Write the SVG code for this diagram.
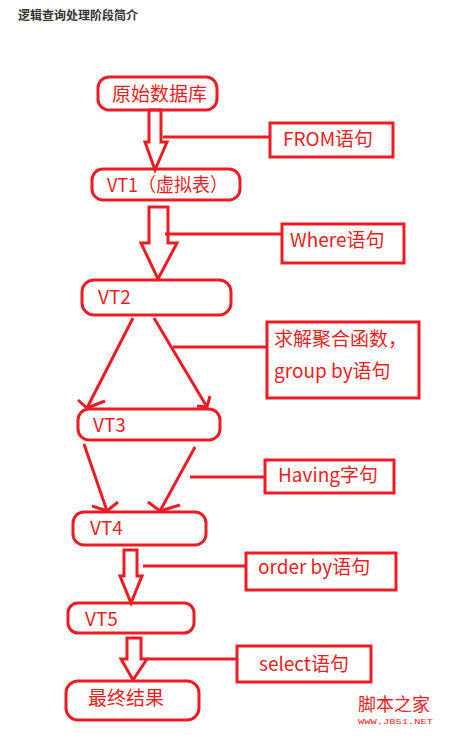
<svg xmlns="http://www.w3.org/2000/svg" width="465" height="742" viewBox="0 0 465 742">
<style>
.n{fill:none;stroke:#ed1c24;stroke-width:3;}
.b{fill:none;stroke:#ed1c24;stroke-width:3;}
.c{fill:none;stroke:#ed1c24;stroke-width:3;stroke-linejoin:miter;}
.t{fill:#ed1c24;font-family:"Noto Sans CJK SC","Noto Sans",sans-serif;font-size:19px;}
.ti{fill:#333;font-family:"Noto Sans CJK SC",sans-serif;font-size:12px;font-weight:bold;}
</style>
<rect width="465" height="742" fill="#fff"/>
<text class="ti" x="18" y="20">逻辑查询处理阶段简介</text>

<g id="connectors">
<path class="c" d="M149,110 V142 H145 L155,170 L167,142 H161 V110 Z"/>
<line class="c" x1="163" y1="137" x2="270" y2="137"/>
<path class="c" d="M149,207 V243 H141 L158,279 L177,243 H168 V207 Z"/>
<line class="c" x1="165" y1="234" x2="282" y2="234"/>
<line class="c" x1="133" y1="318" x2="87" y2="408"/>
<polyline class="c" points="78,400 87,408 105,401"/>
<line class="c" x1="154" y1="318" x2="207" y2="407"/>
<polyline class="c" points="197,406 207,407 210,396"/>
<line class="c" x1="173" y1="347" x2="267" y2="347"/>
<line class="c" x1="84" y1="444" x2="107" y2="511"/>
<polyline class="c" points="92,506 107,511 118,502"/>
<line class="c" x1="195" y1="447" x2="160" y2="511"/>
<polyline class="c" points="148,502 160,511 180,505"/>
<line class="c" x1="190" y1="477" x2="265" y2="477"/>
<path class="c" d="M124,550 V576 H120 L131,603 L142,576 H137 V550 Z"/>
<line class="c" x1="143" y1="566" x2="246" y2="566"/>
<path class="c" d="M127,638 V659 H121 L133,680 L147,659 H141 V638 Z"/>
<line class="c" x1="147" y1="659" x2="237" y2="659"/>
</g>

<g id="n1"><rect class="n" x="98" y="77" width="119" height="33" rx="11"/><text class="t" x="112" y="101">原始数据库</text></g>
<g id="from"><rect class="b" x="270" y="123" width="123" height="34"/><text class="t" x="283" y="146">FROM语句</text></g>
<g id="vt1"><rect class="n" x="92" y="169" width="148" height="31" rx="11"/><text class="t" x="107" y="192" textLength="121" lengthAdjust="spacingAndGlyphs">VT1（虚拟表）</text></g>
<g id="where"><rect class="b" x="282" y="224" width="122" height="39"/><text class="t" x="290" y="247">Where语句</text></g>
<g id="vt2"><rect class="n" x="82" y="280" width="149" height="35" rx="12"/><text class="t" x="98" y="304">VT2</text></g>
<g id="groupby"><rect class="b" x="267" y="322" width="152" height="76"/><text class="t" x="274" y="346">求解聚合函数，</text><text class="t" x="274" y="378">group by语句</text></g>
<g id="vt3"><rect class="n" x="78" y="409" width="142" height="31" rx="11"/><text class="t" x="93" y="432">VT3</text></g>
<g id="having"><rect class="b" x="265" y="460" width="129" height="33"/><text class="t" x="278" y="482">Having字句</text></g>
<g id="vt4"><rect class="n" x="73" y="512" width="133" height="33" rx="11"/><text class="t" x="90" y="535">VT4</text></g>
<g id="orderby"><rect class="b" x="246" y="553" width="150" height="37"/><text class="t" x="258" y="574">order by语句</text></g>
<g id="vt5"><rect class="n" x="68" y="603" width="126" height="30" rx="10"/><text class="t" x="85" y="626">VT5</text></g>
<g id="select"><rect class="b" x="237" y="646" width="134" height="36"/><text class="t" x="259" y="671">select语句</text></g>
<g id="final"><rect class="n" x="66" y="681" width="133" height="39" rx="12"/><text class="t" x="88" y="705">最终结果</text></g>

<text x="358" y="711" fill="#ed1c24" font-family="Noto Sans CJK SC,sans-serif" font-size="18">脚本之家</text>
<text x="358" y="724" fill="#ed1c24" font-family="Liberation Mono,monospace" font-size="8" textLength="75" lengthAdjust="spacingAndGlyphs">WWW.JB51.NET</text>
</svg>
